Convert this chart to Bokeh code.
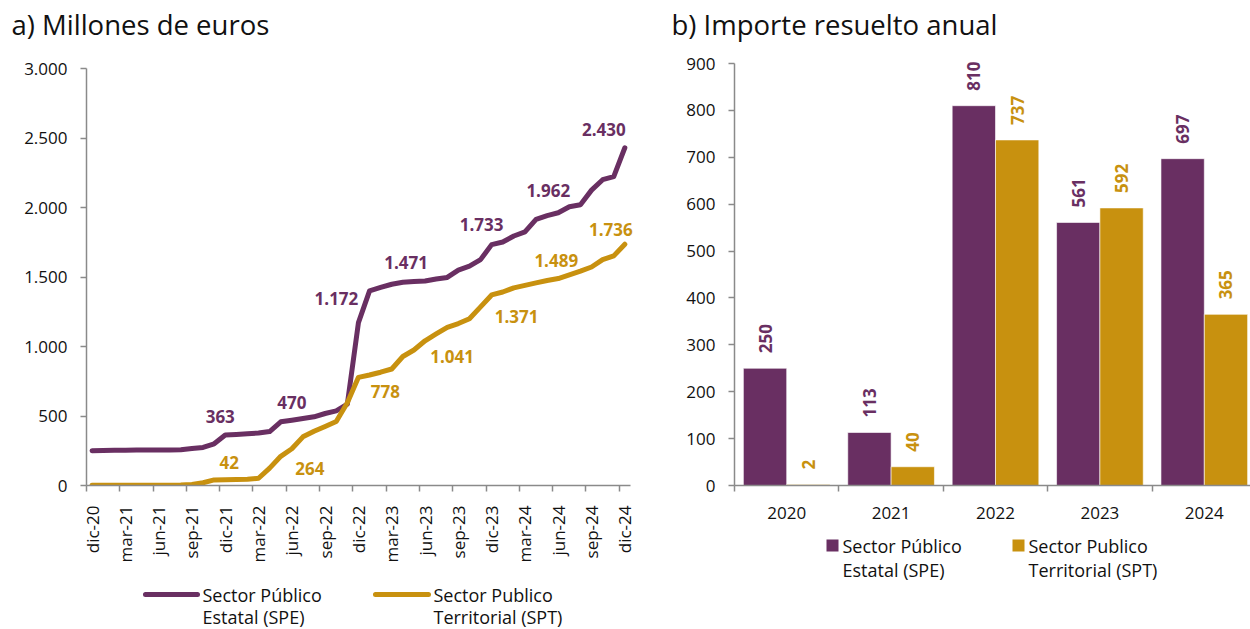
import math
from bokeh.plotting import figure
from bokeh.layouts import row, column
from bokeh.models import FixedTicker, Range1d, Title
from bokeh.core.properties import value
from bokeh.embed import file_html
from bokeh.resources import INLINE

# ---------------- data ----------------
# monthly cumulative, dic-20 .. dic-24 (49 months)
spe_cum = [250, 252, 253, 254, 255, 255, 256, 256, 258, 266, 274, 300,
           363, 367, 372, 378, 388, 458, 470, 482, 494, 518, 537, 585,
           1172, 1400, 1425, 1448, 1462, 1467, 1471, 1485, 1497, 1550, 1578, 1625,
           1733, 1752, 1795, 1825, 1915, 1942, 1962, 2005, 2020, 2125, 2200, 2222,
           2430]
spt_cum = [2, 2, 2, 2, 2, 2, 2, 2, 3, 8, 20, 40,
           42, 43, 45, 52, 125, 210, 264, 350, 390, 425, 460, 595,
           778, 795, 815, 838, 928, 975, 1041, 1090, 1138, 1165, 1200, 1285,
           1371, 1392, 1422, 1440, 1458, 1475, 1489, 1515, 1542, 1572, 1625, 1652,
           1736]
month_ticks = ["dic-20", "mar-21", "jun-21", "sep-21", "dic-21", "mar-22", "jun-22",
               "sep-22", "dic-22", "mar-23", "jun-23", "sep-23", "dic-23", "mar-24",
               "jun-24", "sep-24", "dic-24"]
label_idx = [12, 18, 24, 30, 36, 42, 48]

years = ["2020", "2021", "2022", "2023", "2024"]
spe_annual = [250, 113, 810, 561, 697]
spt_annual = [2, 40, 737, 592, 365]

series_names = [["Sector Público", "Estatal (SPE)"], ["Sector Publico", "Territorial (SPT)"]]
titles = ["a) Millones de euros", "b) Importe resuelto anual"]

# ---------------- style ----------------
PURPLE = "#692F62"
GOLD = "#C8910F"
AXIS = "#8A8A8A"
TXT = "#111111"
FONT = "Open Sans"

# label offsets (px, screen; +x right, +y down)
spe_dx = [-5, 0, -22, -19, -10, -10, -21]
spe_dy = [-19, -18, -24, -19, -20, -22, -18]
spt_dx = [4, 18, 27, 27, 25, -2, -14]
spt_dy = [-17, 20, 14, 16, 22, -18, -15]


def fmt(v):
    return f"{v:,}".replace(",", ".")


def style_axes(p):
    p.xgrid.visible = False
    p.ygrid.visible = False
    p.outline_line_color = None
    for ax in (p.xaxis[0], p.yaxis[0]):
        ax.axis_line_color = AXIS
        ax.axis_line_width = 1.5
        ax.major_label_text_font = FONT
        ax.major_label_text_font_size = "17px"
        ax.major_label_text_color = TXT
        ax.major_tick_line_color = AXIS
        ax.major_tick_line_width = 1.5
        ax.minor_tick_line_color = AXIS
        ax.minor_tick_line_width = 1.5
        ax.major_tick_in = 0
        ax.minor_tick_in = 0


def blank_fig(width, height, xr, yr, **kw):
    f = figure(width=width, height=height, output_backend="svg", toolbar_location=None,
               x_range=Range1d(*xr), y_range=Range1d(*yr),
               x_axis_type=None, y_axis_type=None, **kw)
    f.xgrid.visible = False
    f.ygrid.visible = False
    f.outline_line_color = None
    return f


def title_fig(width, text, frame_left, border_right):
    f = blank_fig(width, 46, (0, 1), (0, 1), min_border_left=frame_left,
                  min_border_right=border_right, min_border_top=44, min_border_bottom=0)
    f.add_layout(Title(text=text, align="left", offset=(11 if frame_left < 200 else 13) - frame_left,
                       text_font=FONT, text_font_size="27.5px", text_font_style="normal",
                       text_color=TXT, standoff=7), "above")
    return f


# ---------------- panel a ----------------
# page pixel geometry: frame x 86.., month width 11.1 px, y 68..488
n = len(spe_cum)
idx = list(range(n))
x_end = n - 0.5 + 0.55
frame_w_a = (x_end + 0.5) * 11.1
right_a = int(round(660 - 86 - frame_w_a))
tA = title_fig(660, titles[0], 86, right_a)
p1 = figure(width=660, height=519, output_backend="svg", toolbar_location=None,
            x_range=Range1d(-0.5, x_end), y_range=Range1d(0, 3000),
            min_border_left=86, min_border_right=right_a, min_border_top=68 - 46,
            min_border_bottom=565 - 488)
style_axes(p1)

p1.line(idx, spe_cum, line_width=5, color=PURPLE, line_join="round", line_cap="round")
p1.line(idx, spt_cum, line_width=5, color=GOLD, line_join="round", line_cap="round")

p1.text(x=label_idx, y=[spe_cum[i] for i in label_idx],
        text=[fmt(spe_cum[i]) for i in label_idx],
        x_offset=spe_dx, y_offset=spe_dy, text_align="center", text_baseline="middle",
        text_font=value(FONT), text_font_style="bold", text_font_size="17px",
        text_color=PURPLE)
p1.text(x=label_idx, y=[spt_cum[i] for i in label_idx],
        text=[fmt(spt_cum[i]) for i in label_idx],
        x_offset=spt_dx, y_offset=spt_dy, text_align="center", text_baseline="middle",
        text_font=value(FONT), text_font_style="bold", text_font_size="17px",
        text_color=GOLD)

qt = list(range(0, n, 3))
p1.xaxis.ticker = FixedTicker(ticks=qt, minor_ticks=[q - 0.5 for q in qt])
p1.xaxis.major_label_overrides = {q: month_ticks[k] for k, q in enumerate(qt)}
p1.xaxis.bounds = (-0.5, n - 0.5)
p1.xaxis.major_tick_line_color = None
p1.xaxis.major_tick_out = 0
p1.xaxis.minor_tick_out = 6
p1.xaxis.major_label_orientation = math.pi / 2
p1.xaxis.major_label_standoff = 14

yt = list(range(0, 3001, 500))
p1.yaxis.ticker = FixedTicker(ticks=yt)
p1.yaxis.major_label_overrides = {t: fmt(t) for t in yt}
p1.yaxis.major_tick_out = 6
p1.yaxis.minor_tick_out = 0
p1.yaxis.major_label_standoff = 13

# legend a (frame is aligned with p1's frame)
lA = blank_fig(660, 64, (86, 86 + frame_w_a), (629, 565), min_border=0)
lA.segment(x0=[145, 375], y0=[594, 594], x1=[197, 428], y1=[594, 594],
           line_color=[PURPLE, GOLD], line_width=5, line_cap="round")
lA.text(x=[202, 202, 433, 433], y=[594, 616, 594, 616],
        text=[series_names[0][0], series_names[0][1], series_names[1][0], series_names[1][1]],
        text_align="left", text_baseline="middle", text_font=value(FONT),
        text_font_size="18px", text_color=TXT)

# ---------------- panel b ----------------
# page pixel geometry: frame x 734..1250, axis 0 at y 485, 900 at y 63
cat_w_px = 104.4
frame_w = 516
px_per_unit = (485 - 63) / 900
frame_top = 56
m = len(years)
tB = title_fig(590, titles[1], 74, 0)
p2 = figure(width=590, height=530 - 46, output_backend="svg", toolbar_location=None,
            x_range=Range1d(0, frame_w / cat_w_px),
            y_range=Range1d(0, (485 - frame_top) / px_per_unit),
            min_border_left=74, min_border_right=0, min_border_top=frame_top - 46,
            min_border_bottom=530 - 485)
style_axes(p2)

bw = 0.415
xs_spe = [i + 0.5 - bw / 2 for i in range(m)]
xs_spt = [i + 0.5 + bw / 2 for i in range(m)]
p2.vbar(x=xs_spe, top=spe_annual, width=bw, color=PURPLE, line_color="white", line_width=0.6)
p2.vbar(x=xs_spt, top=spt_annual, width=bw, color=GOLD, line_color="white", line_width=0.6)

p2.text(x=xs_spe, y=spe_annual, text=[str(v) for v in spe_annual], angle=math.pi / 2,
        y_offset=-15, text_align="left", text_baseline="middle",
        text_font=value(FONT), text_font_style="bold", text_font_size="17px",
        text_color=PURPLE)
p2.text(x=xs_spt, y=spt_annual, text=[str(v) for v in spt_annual], angle=math.pi / 2,
        y_offset=-15, text_align="left", text_baseline="middle",
        text_font=value(FONT), text_font_style="bold", text_font_size="17px",
        text_color=GOLD)

p2.xaxis.ticker = FixedTicker(ticks=[i + 0.5 for i in range(m)], minor_ticks=list(range(m + 1)))
p2.xaxis.major_label_overrides = {i + 0.5: years[i] for i in range(m)}
p2.xaxis.major_tick_line_color = None
p2.xaxis.major_tick_out = 0
p2.xaxis.minor_tick_out = 6
p2.xaxis.major_label_standoff = 15

yt2 = list(range(0, 901, 100))
p2.yaxis.ticker = FixedTicker(ticks=yt2)
p2.yaxis.bounds = (0, 900)
p2.yaxis.major_tick_out = 6
p2.yaxis.minor_tick_out = 0
p2.yaxis.major_label_standoff = 13

# legend b (frame aligned with p2's frame: page x 734..1250, page y 530..629)
lB = blank_fig(590, 99, (734, 1250), (629, 530), min_border=0)
lB.quad(left=[826, 1012], right=[838, 1024], top=[539, 539], bottom=[551, 551],
        fill_color=[PURPLE, GOLD], line_color=None)
lB.text(x=[842, 842, 1028, 1028], y=[545, 569, 545, 569],
        text=[series_names[0][0], series_names[0][1], series_names[1][0], series_names[1][1]],
        text_align="left", text_baseline="middle", text_font=value(FONT),
        text_font_size="18px", text_color=TXT)

layout = row(column(tA, p1, lA), column(tB, p2, lB))
open("out.html", "w").write(file_html(layout, INLINE))
